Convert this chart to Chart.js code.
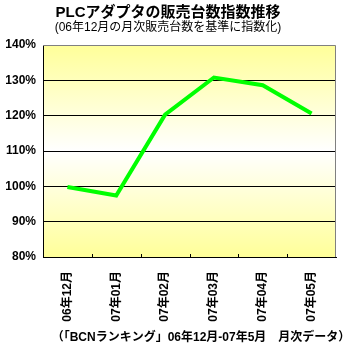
<!DOCTYPE html>
<html>
<head>
<meta charset="utf-8">
<script src="https://cdn.jsdelivr.net/npm/chart.js@4/dist/chart.umd.min.js"></script>
<style>
	html, body { margin: 0; padding: 0; background: #fff; }
	#wrap { width: 352px; height: 353px; }
</style>
</head>
<body>
<div id="wrap"><canvas id="chart" width="352" height="353"></canvas></div>
<script>
// chart data
var months = ['06年12月', '07年01月', '07年02月', '07年03月', '07年04月', '07年05月'];
var indexValues = [99.8, 97.4, 120.3, 130.8, 128.6, 120.6];
var yTicks = [80, 90, 100, 110, 120, 130, 140];

var titleText = 'PLCアダプタの販売台数指数推移';
var subtitleText = '(06年12月の月次販売台数を基準に指数化)';
var footerText = '（「BCNランキング」06年12月-07年5月　月次データ）';

// latin glyphs from Liberation Sans, kanji/kana fall back to Noto CJK
var jpFont = "'Liberation Sans', 'Noto Sans CJK JP', sans-serif";

// draws the yellow gradient behind the plot, the grey frame and the small x ticks
var plotDecor = {
	id: 'plotDecor',
	beforeDraw: function(chart) {
		var ctx = chart.ctx;
		var a = chart.chartArea;
		var grad = ctx.createLinearGradient(0, a.top, 0, a.bottom);
		grad.addColorStop(0, '#ffff99');
		grad.addColorStop(0.5, '#ffffff');
		grad.addColorStop(1, '#ffff99');
		ctx.save();
		ctx.fillStyle = grad;
		ctx.fillRect(a.left, a.top, a.right - a.left, a.bottom - a.top);
		ctx.restore();
	},
	afterDatasetsDraw: function(chart) {
		var ctx = chart.ctx;
		var a = chart.chartArea;
		var xs = chart.scales.x;
		ctx.save();
		// grey frame on top and right
		ctx.strokeStyle = '#808080';
		ctx.lineWidth = 1;
		ctx.beginPath();
		ctx.moveTo(a.left, a.top + 0.5);
		ctx.lineTo(a.right - 0.5, a.top + 0.5);
		ctx.lineTo(a.right - 0.5, a.bottom);
		ctx.stroke();
		// short tick marks at category boundaries, pointing up into the plot
		ctx.strokeStyle = '#000';
		ctx.beginPath();
		for (var i = 1; i < months.length; i++) {
			var x = Math.round((xs.getPixelForValue(i - 1) + xs.getPixelForValue(i)) / 2) + 0.5;
			ctx.moveTo(x, a.bottom);
			ctx.lineTo(x, a.bottom - 3);
		}
		ctx.stroke();
		// source note under the axis
		ctx.fillStyle = '#000';
		ctx.font = 'bold 12px ' + jpFont;
		ctx.textAlign = 'center';
		ctx.textBaseline = 'middle';
		ctx.fillText(footerText, 201, 338);
		ctx.restore();
	}
};

var chart = new Chart(document.getElementById('chart'), {
	type: 'line',
	data: {
		labels: months,
		datasets: [{
			data: indexValues,
			borderColor: '#00ff00',
			borderWidth: 4,
			pointRadius: 0,
			tension: 0,
			fill: false
		}]
	},
	options: {
		responsive: false,
		animation: false,
		layout: { padding: { left: 0, right: 16, top: 0, bottom: 0 } },
		plugins: {
			legend: { display: false },
			tooltip: { enabled: false },
			title: {
				display: true,
				text: titleText,
				color: '#000',
				font: { family: jpFont, size: 15, weight: 'bold', lineHeight: 1.2 },
				padding: { top: 4, bottom: 0 }
			},
			subtitle: {
				display: true,
				text: subtitleText,
				color: '#000',
				font: { family: jpFont, size: 12, weight: 'normal', lineHeight: 1 },
				padding: { top: 0, bottom: 11 }
			}
		},
		scales: {
			x: {
				offset: true,
				grid: { display: false, drawTicks: false },
				border: { display: true, color: '#000', width: 1 },
				ticks: {
					color: '#000',
					font: { family: jpFont, size: 12, weight: 'bold' },
					minRotation: 90,
					maxRotation: 90,
					padding: 14,
					autoSkip: false
				},
				afterFit: function(scale) { scale.height = 96; }
			},
			y: {
				min: 80,
				max: 140,
				afterBuildTicks: function(scale) {
					scale.ticks = yTicks.map(function(v) { return { value: v }; });
				},
				grid: {
					drawTicks: false,
					color: function(c) { return c.tick && c.tick.value === 140 ? 'rgba(0,0,0,0)' : '#000'; },
					lineWidth: 1
				},
				border: { display: true, color: '#000', width: 1 },
				ticks: {
					color: '#000',
					padding: 7,
					font: { family: "'Liberation Sans', Arial, sans-serif", size: 12, weight: 'bold' },
					callback: function(v) { return v + '%'; }
				},
				afterFit: function(scale) { scale.width = 43; }
			}
		}
	},
	plugins: [plotDecor]
});
</script>
</body>
</html>
